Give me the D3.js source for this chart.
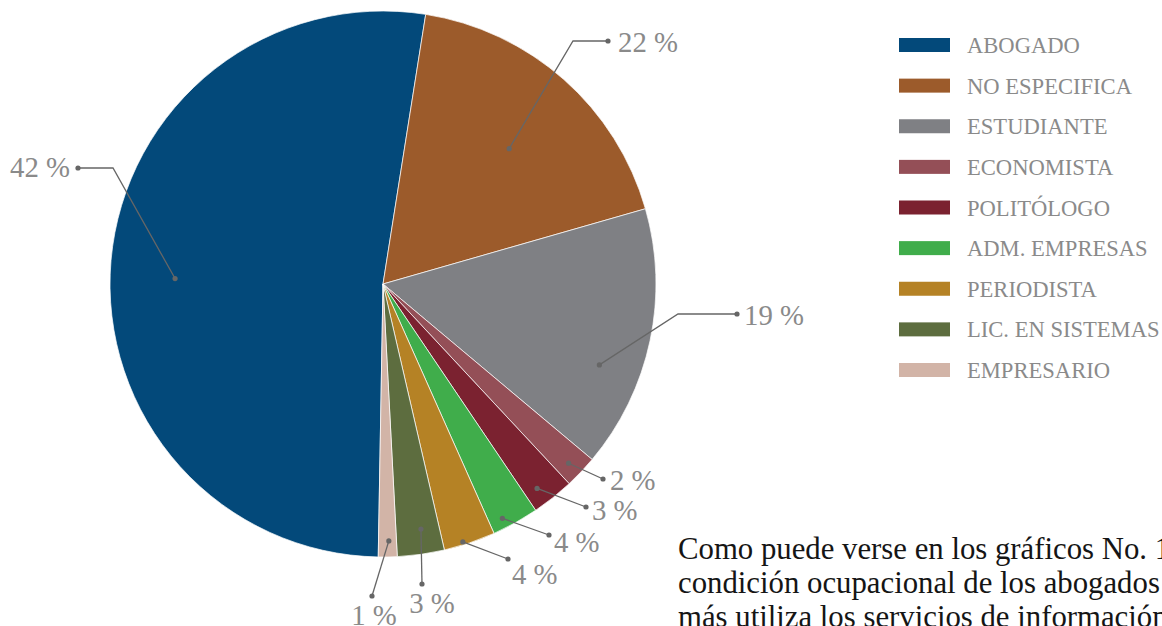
<!DOCTYPE html>
<html lang="es">
<head>
<meta charset="UTF-8">
<title>Condición ocupacional</title>
<script src="https://d3js.org/d3.v7.min.js"></script>
<style>
  body { margin: 0; background: #fff; }
  text { font-family: "Liberation Serif", "DejaVu Serif", serif; }
  .pct { fill: #8a8a8a; }
  .leg { fill: #8a8a8a; }
  .para { fill: #151515; }
</style>
</head>
<body>
<svg class="chart"></svg>
<script>
const W = 1162, H = 626;

// datos
const categories = ["ABOGADO", "NO ESPECIFICA", "ESTUDIANTE", "ECONOMISTA", "POLITÓLOGO",
  "ADM. EMPRESAS", "PERIODISTA", "LIC. EN SISTEMAS", "EMPRESARIO"];
const sliceValues = [188, 65, 56, 7, 9, 10, 11, 10, 4];   // tamaño de cada porción
const pctLabels = ["42 %", "22 %", "19 %", "2 %", "3 %", "4 %", "4 %", "3 %", "1 %"];
const colors = ["#03497a", "#9c5b2b", "#7f8084", "#944f57", "#7b2230",
  "#40ad4b", "#b58225", "#5d6d3f", "#d2b4a7"];
const paragraph = [
  "Como puede verse en los gráficos No. 1",
  "condición ocupacional de los abogados",
  "más utiliza los servicios de información"
];

// colocación de etiquetas (relativa al centro)
const labelLayout = [
  { r: 208, da: -3.5, elbow: [-270, -116], end: [-305, -116], txt: [-8, 9], anchor: "end" },
  { r: 185, da: 1.5, elbow: [190, -243], end: [225, -243], txt: [10, 11], anchor: "start" },
  { r: 231, da: 8.5, elbow: [295, 30], end: [354, 30], txt: [7, 11], anchor: "start" },
  { r: 258, da: 0.5, elbow: null, end: [220, 195], txt: [7, 11], anchor: "start" },
  { r: 256, da: 1.5, elbow: null, end: [203, 223], txt: [6, 13], anchor: "start" },
  { r: 263, da: 2, elbow: null, end: [166, 251], txt: [5, 17], anchor: "start" },
  { r: 270, da: 1.3, elbow: null, end: [125, 275], txt: [4, 25], anchor: "start" },
  { r: 248, da: -0.8, elbow: null, end: [39, 300], txt: [10, 29], anchor: "middle" },
  { r: 257, da: -0.3, elbow: null, end: [-11, 312], txt: [2, 29], anchor: "middle" }
];

const svg = d3.select(".chart").attr("width", W).attr("height", H)
  .attr("viewBox", `0 0 ${W} ${H}`);

// tamaño de letra que da un ancho dado (la fuente instalada puede variar)
function fitSize(str, targetW) {
  const t = svg.append("text").attr("font-size", 100).text(str);
  const w = t.node().getComputedTextLength();
  t.remove();
  return 100 * targetW / w;
}
const pctSize = fitSize("42 %", 60);
const legSize = fitSize("NO ESPECIFICA", 165);
const paraSize = fitSize("condición ocupacional de los abogados", 482);

const cx = 383, cy = 284, R = 273;
const rad = d => d * Math.PI / 180;
const start = rad(181);

const pie = d3.pie().sort(null).value(d => d).startAngle(start).endAngle(start + 2 * Math.PI);
const arcs = pie(sliceValues);
const arc = d3.arc().innerRadius(0).outerRadius(R);

const g = svg.append("g").attr("transform", `translate(${cx},${cy})`);

g.selectAll("path.slice")
  .data(arcs)
  .join("path")
  .attr("class", "slice")
  .attr("d", arc)
  .attr("fill", (d, i) => colors[i])
  .attr("stroke", "#fff")
  .attr("stroke-width", 0.7);

// líneas guía
const lab = g.append("g");
arcs.forEach((d, i) => {
  const L = labelLayout[i];
  const a = (d.startAngle + d.endAngle) / 2 + rad(L.da);
  const p0 = [Math.sin(a) * L.r, -Math.cos(a) * L.r];
  const pts = [p0];
  if (L.elbow) pts.push(L.elbow);
  pts.push(L.end);
  lab.append("path")
    .attr("d", d3.line()(pts))
    .attr("fill", "none")
    .attr("stroke", "#666")
    .attr("stroke-width", 1.3);
  lab.append("circle").attr("cx", p0[0]).attr("cy", p0[1]).attr("r", 2.6).attr("fill", "#666");
  lab.append("circle").attr("cx", L.end[0]).attr("cy", L.end[1]).attr("r", 2.6).attr("fill", "#666");
  lab.append("text")
    .attr("class", "pct")
    .attr("font-size", pctSize)
    .attr("x", L.end[0] + L.txt[0])
    .attr("y", L.end[1] + L.txt[1])
    .attr("text-anchor", L.anchor)
    .text(pctLabels[i]);
});

// leyenda
const ly = d3.scalePoint().domain(categories).range([45, 370]);
const leg = svg.append("g");
leg.selectAll("rect")
  .data(categories)
  .join("rect")
  .attr("x", 899).attr("y", d => ly(d) - 7)
  .attr("width", 51).attr("height", 14)
  .attr("fill", (d, i) => colors[i]);
leg.selectAll("text")
  .data(categories)
  .join("text")
  .attr("class", "leg")
  .attr("font-size", legSize)
  .attr("x", 967).attr("y", d => ly(d) + 8)
  .text(d => d);

// párrafo
svg.append("g").selectAll("text")
  .data(paragraph)
  .join("text")
  .attr("class", "para")
  .attr("font-size", paraSize)
  .attr("x", 678)
  .attr("y", (d, i) => 559 + i * 34)
  .text(d => d);
</script>
</body>
</html>
